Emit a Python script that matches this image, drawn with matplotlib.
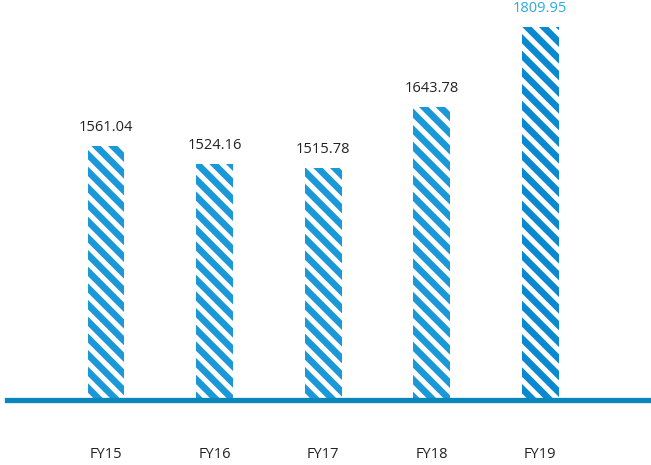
import matplotlib
matplotlib.use("Agg")
import matplotlib.pyplot as plt

years = ["FY15", "FY16", "FY17", "FY18", "FY19"]
values = [1561.04, 1524.16, 1515.78, 1643.78, 1809.95]
labels = ["1561.04", "1524.16", "1515.78", "1643.78", "1809.95"]

plt.rcParams['font.family'] = ['Open Sans', 'DejaVu Sans']
plt.rcParams['hatch.linewidth'] = 4.8

fig = plt.figure(figsize=(6.51, 4.65), dpi=100)
ax = fig.add_axes([7 / 651, 65 / 465, 644 / 651, 400 / 465])

x = list(range(len(years)))
cols = ['#1b98d8'] * 4 + ['#0a88d0']
bars = ax.bar(x, values, width=0.34, color='white', edgecolor=cols,
              linewidth=0, hatch='\\\\')

for i, b in enumerate(bars):
    c = '#29abe2' if i == len(bars) - 1 else '#222222'
    ax.annotate(labels[i], (b.get_x() + b.get_width() / 2, values[i]),
                xytext=(0, 8), textcoords='offset points',
                ha='center', va='bottom', fontsize=10.5, color=c)

ax.set_xlim(-0.912, 5.02)
ax.set_ylim(1033, 1866)
ax.axhline(1033, color='#0a86bd', linewidth=3.8, zorder=3, clip_on=False)

ax.set_xticks(x)
ax.set_xticklabels(years, fontsize=10.5, color='#222222')
ax.tick_params(axis='x', length=0, pad=34)
ax.set_yticks([])
for s in ax.spines.values():
    s.set_visible(False)

fig.savefig("out.png", dpi=100)
